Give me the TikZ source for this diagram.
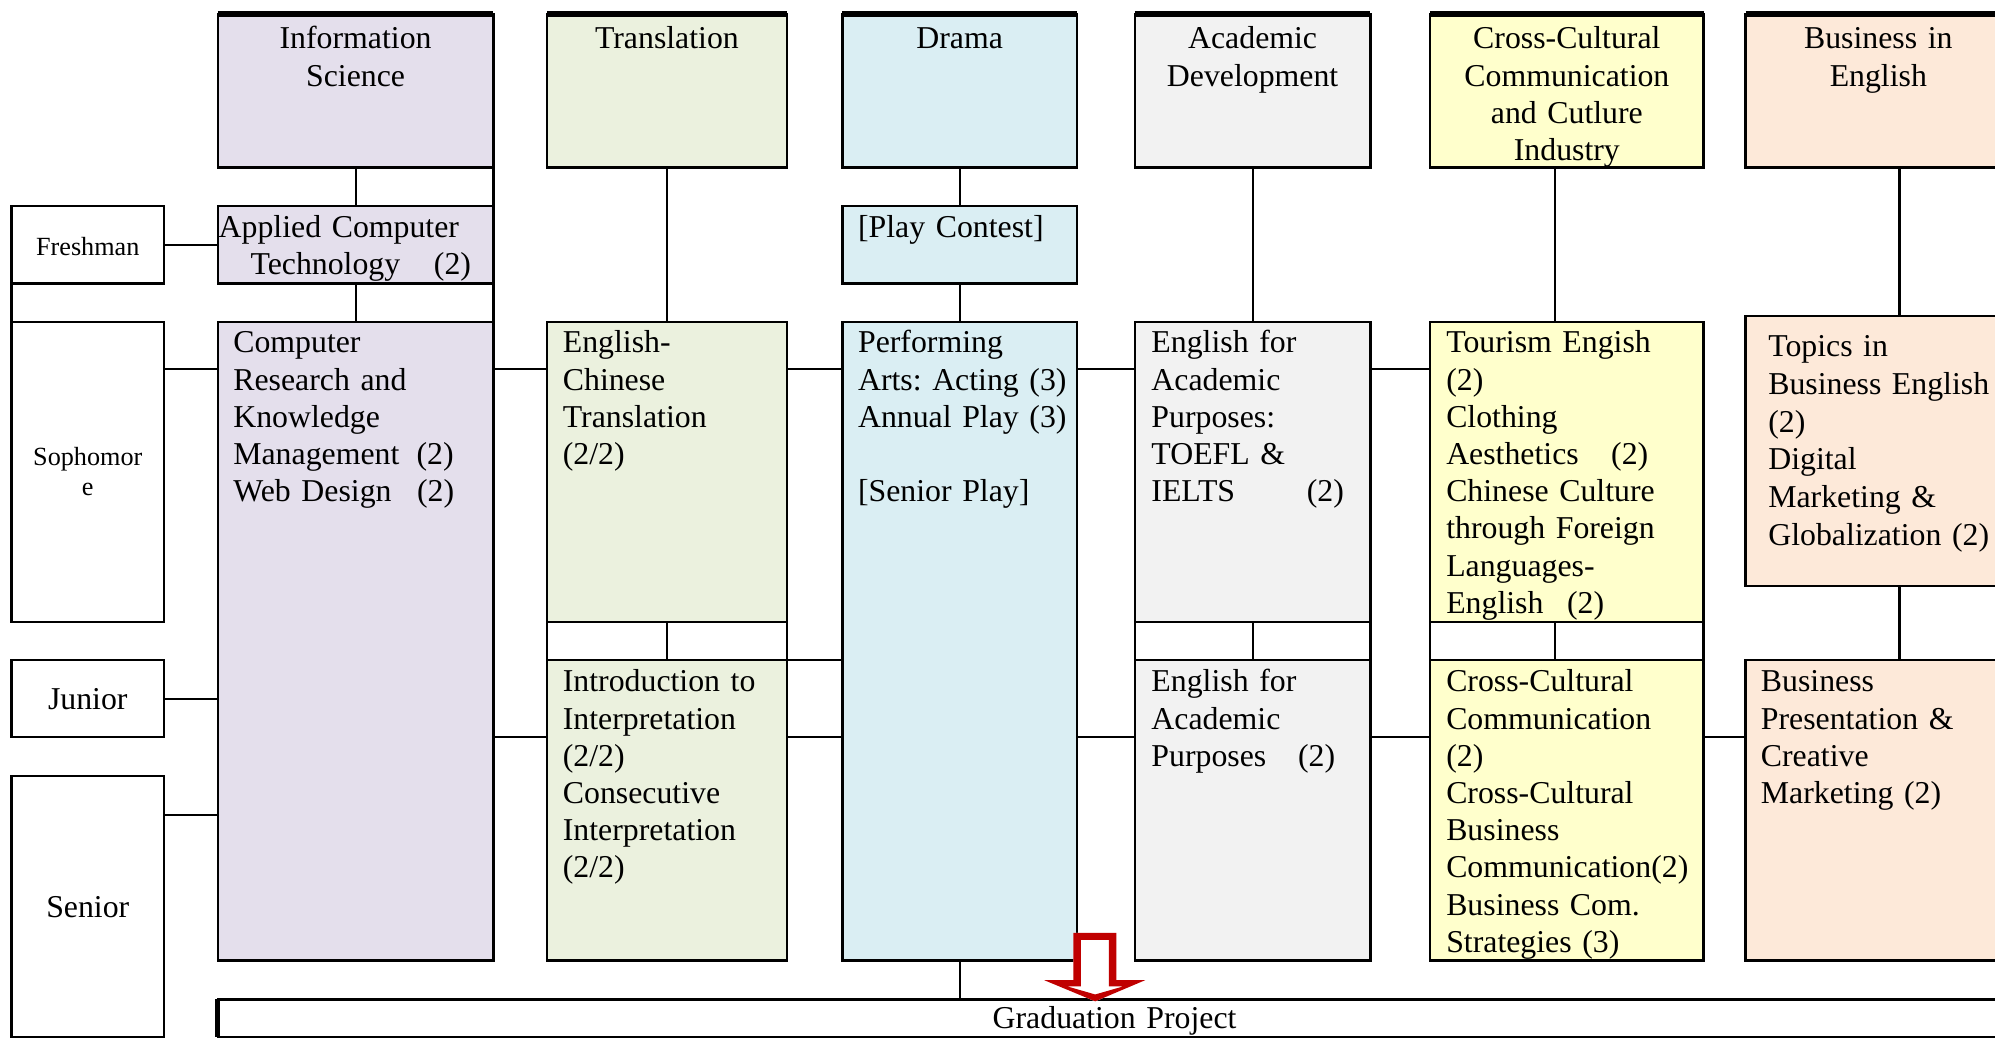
\documentclass[tikz,border=0pt]{standalone}
\usepackage{fontspec}
\setmainfont{Liberation Serif}
\usetikzlibrary{fit}
\definecolor{cInfo}{HTML}{E4DFEC}
\definecolor{cTrans}{HTML}{EBF1DE}
\definecolor{cDrama}{HTML}{DAEEF3}
\definecolor{cAcad}{HTML}{F2F2F2}
\definecolor{cCCC}{HTML}{FFFFCC}
\definecolor{cBus}{HTML}{FDE9D9}
\definecolor{cRed}{HTML}{C00000}
\newcommand\BX[6]{\node[box,fill=#2,fit={(#3,#4) (#5,#6)}] (#1) {};}
\tikzset{
  box/.style={draw=black, line width=1pt, inner sep=0pt, outer sep=0pt},
  conn/.style={line width=0.8pt},
  side/.style={line width=1pt},
  thickconn/.style={line width=1.4pt},
  hdrline/.style={line width=2.5pt},
  txt/.style={inner sep=0pt, text width=240pt, align=left, anchor=base west, font=\fontsize{12.5}{14.625}\selectfont},
  ctxt/.style={inner sep=0pt, text width=200pt, align=center, anchor=base, font=\fontsize{12.5}{14.625}\selectfont},
  stxt/.style={inner sep=0pt, text width=100pt, align=center, anchor=base, font=\fontsize{10.3}{11.8}\selectfont},
}
\frenchspacing
\begin{document}
\frenchspacing
\begin{tikzpicture}[x=0.5pt,y=-0.5pt]
\useasboundingbox (0,0) rectangle (1568,816);
\clip (0,0) rectangle (1568,816);
% header boxes
\BX{info}{cInfo}{171.3}{11}{387.8}{131.7}
\BX{trans}{cTrans}{430}{11}{618.5}{131.7}
\BX{drama}{cDrama}{662}{11}{846.5}{131.7}
\BX{acad}{cAcad}{892}{11}{1077}{131.7}
\BX{ccc}{cCCC}{1124}{11}{1339}{131.7}
\BX{bus}{cBus}{1372}{11}{1581}{131.7}
\foreach \n in {info,trans,drama,acad,ccc,bus}{\draw[hdrline] (\n.north west) -- (\n.north east);}
% year boxes
\BX{fresh}{white}{9.1}{162}{129}{222.7}
\BX{soph}{white}{9.1}{253}{129}{488.7}
\BX{junior}{white}{9.1}{518.9}{129}{579.1}
\BX{senior}{white}{9.1}{610}{129}{815}
% course boxes
\BX{appl}{cInfo}{171.3}{162}{387.8}{222.7}
\BX{play}{cDrama}{662}{162}{846.5}{222.7}
\BX{comp}{cInfo}{171.3}{253}{387.8}{754.7}
\BX{ec}{cTrans}{430}{253}{618.5}{488.7}
\BX{perf}{cDrama}{662}{253}{846.5}{754.7}
\BX{toefl}{cAcad}{892}{253}{1077}{488.7}
\BX{tour}{cCCC}{1124}{253}{1339}{488.7}
\BX{topics}{cBus}{1372}{248.4}{1581}{460.7}
\BX{intro}{cTrans}{430}{518.9}{618.5}{754.7}
\BX{eap}{cAcad}{892}{518.9}{1077}{754.7}
\BX{cccomm}{cCCC}{1124}{518.9}{1339}{754.7}
\BX{bp}{cBus}{1372}{518.9}{1581}{754.7}
\BX{grad}{white}{171.3}{785.4}{1600}{815}
\draw[line width=2pt] (grad.north west) -- (grad.south west);
% level coordinates
\coordinate (yS) at (0,290);
\coordinate (yJt) at (0,519);
\coordinate (yJ) at (0,549.5);
\coordinate (yK) at (0,579);
\coordinate (ySe) at (0,640.7);
\coordinate (xC) at (1222.3,0);
\coordinate (xB) at (1493,0);
% vertical connectors
\draw[conn] (info) -- (appl);
\draw[conn] (appl) -- (comp.north -| appl.south);
\draw[side] (info.south east) -- (comp.north east);
\draw[side] (fresh.south west) -- (soph.north west);
\draw[conn] (trans.south) -- (ec.north);
\draw[conn] (ec.south) -- (intro.north);
\draw[side] (ec.south west) -- (intro.north west);
\draw[side] (ec.south east) -- (intro.north east);
\draw[conn] (drama) -- (play);
\draw[conn] (play) -- (perf.north -| play.south);
\draw[conn] (perf.south) -- (perf.south |- grad.north);
\draw[conn] (acad.south) -- (toefl.north);
\draw[conn] (toefl.south) -- (eap.north);
\draw[side] (toefl.south west) -- (eap.north west);
\draw[side] (toefl.south east) -- (eap.north east);
\draw[conn] (ccc.south -| xC) -- (tour.north -| xC);
\draw[conn] (tour.south -| xC) -- (cccomm.north -| xC);
\draw[side] (tour.south west) -- (cccomm.north west);
\draw[side] (tour.south east) -- (cccomm.north east);
\draw[thickconn] (bus.south -| xB) -- (topics.north -| xB);
\draw[thickconn] (topics.south -| xB) -- (bp.north -| xB);
% horizontal connectors
\draw[conn] (fresh) -- (appl);
\draw[conn] (soph.east |- yS) -- (comp.west |- yS);
\draw[conn] (comp.east |- yS) -- (ec.west |- yS);
\draw[conn] (ec.east |- yS) -- (perf.west |- yS);
\draw[conn] (perf.east |- yS) -- (toefl.west |- yS);
\draw[conn] (toefl.east |- yS) -- (tour.west |- yS);
\draw[conn] (intro.east |- yJt) -- (perf.west |- yJt);
\draw[conn] (junior.east |- yJ) -- (comp.west |- yJ);
\draw[conn] (comp.east |- yK) -- (intro.west |- yK);
\draw[conn] (intro.east |- yK) -- (perf.west |- yK);
\draw[conn] (perf.east |- yK) -- (eap.west |- yK);
\draw[conn] (eap.east |- yK) -- (cccomm.west |- yK);
\draw[conn] (cccomm.east |- yK) -- (bp.west |- yK);
\draw[conn] (senior.east |- ySe) -- (comp.west |- ySe);
% red hollow arrow
\fill[white] (843.6,733.2) -- (877.4,733.2) -- (877.4,770.4) -- (900,770.4) -- (860.8,787) -- (820.8,770.4) -- (843.6,770.4) -- cycle;
\fill[cRed, even odd rule] (843.6,733.2) -- (877.4,733.2) -- (877.4,770.4) -- (900,770.4) -- (860.8,787) -- (820.8,770.4) -- (843.6,770.4) -- cycle
  (849.6,738.6) -- (871.6,738.6) -- (871.6,775.2) -- (883,775.2) -- (860.8,781.6) -- (838.6,775.2) -- (849.6,775.2) -- cycle;
% header texts
\node[ctxt] (infoT) at (279.5,38.5) {Information\\Science};
\node[ctxt] (transT) at (524.2,38.5) {Translation};
\node[ctxt] (dramaT) at (754.2,38.5) {Drama};
\node[ctxt] (acadT) at (984.5,38.5) {Academic\\Development};
\node[ctxt] (cccT) at (1231.5,38.5) {Cross-Cultural\\Communication\\and Cutlure\\Industry};
\node[ctxt] (busT) at (1476.3,38.5) {Business in\\English};
% year texts
\node[stxt] (freshT) at (69,200.5) {Freshman};
\node[stxt] (sophT) at (69,365.6) {Sophomor\\e};
\node[ctxt] (juniorT) at (69,557.6) {Junior};
\node[ctxt] (seniorT) at (69,721) {Senior};
% course texts
\node[txt] (applT) at (171.5,186.6) {Applied Computer\\\hspace*{12.5pt}Technology\hspace{13.25pt}(2)};
\node[txt] (compT) at (183,277.3) {Computer\\Research and\\Knowledge\\Management\hspace{6.75pt}(2)\\Web Design\hspace{10pt}(2)};
\node[txt] (playT) at (674,186.6) {[Play Contest]};
\node[txt] (ecT) at (442,277.3) {English-\\Chinese\\Translation\\(2/2)};
\node[txt] (perfT) at (674,277.3) {Performing\\Arts: Acting (3)\\Annual Play (3)\\\mbox{}\\{}[Senior Play]};
\node[txt] (toeflT) at (904.6,277.3) {English for\\Academic\\Purposes:\\TOEFL \&\\IELTS\hspace{28.2pt}(2)};
\node[txt] (tourT) at (1136.3,277.3) {Tourism Engish\\(2)\\Clothing\\Aesthetics\hspace{12.75pt}(2)\\Chinese Culture\\through Foreign\\Languages-\\English\hspace{9.25pt}(2)};
\node[txt, font=\fontsize{12.5}{14.8}\selectfont] (topT) at (1389.4,280.4) {Topics in\\Business English\\(2)\\Digital\\Marketing \&\\Globalization (2)};
\node[txt] (introT) at (442,543.8) {Introduction to\\Interpretation\\(2/2)\\Consecutive\\Interpretation\\(2/2)};
\node[txt] (eapT) at (904.6,543.8) {English for\\Academic\\Purposes\hspace{12.5pt}(2)};
\node[txt] (cccommT) at (1136.3,543.8) {Cross-Cultural\\Communication\\(2)\\Cross-Cultural\\Business\\Communication(2)\\Business Com.\\Strategies (3)};
\node[txt] (bpT) at (1383.6,543.8) {Business\\Presentation \&\\Creative\\Marketing (2)};
\node[ctxt] (gradT) at (876,808.4) {Graduation Project};
\end{tikzpicture}
\end{document}
